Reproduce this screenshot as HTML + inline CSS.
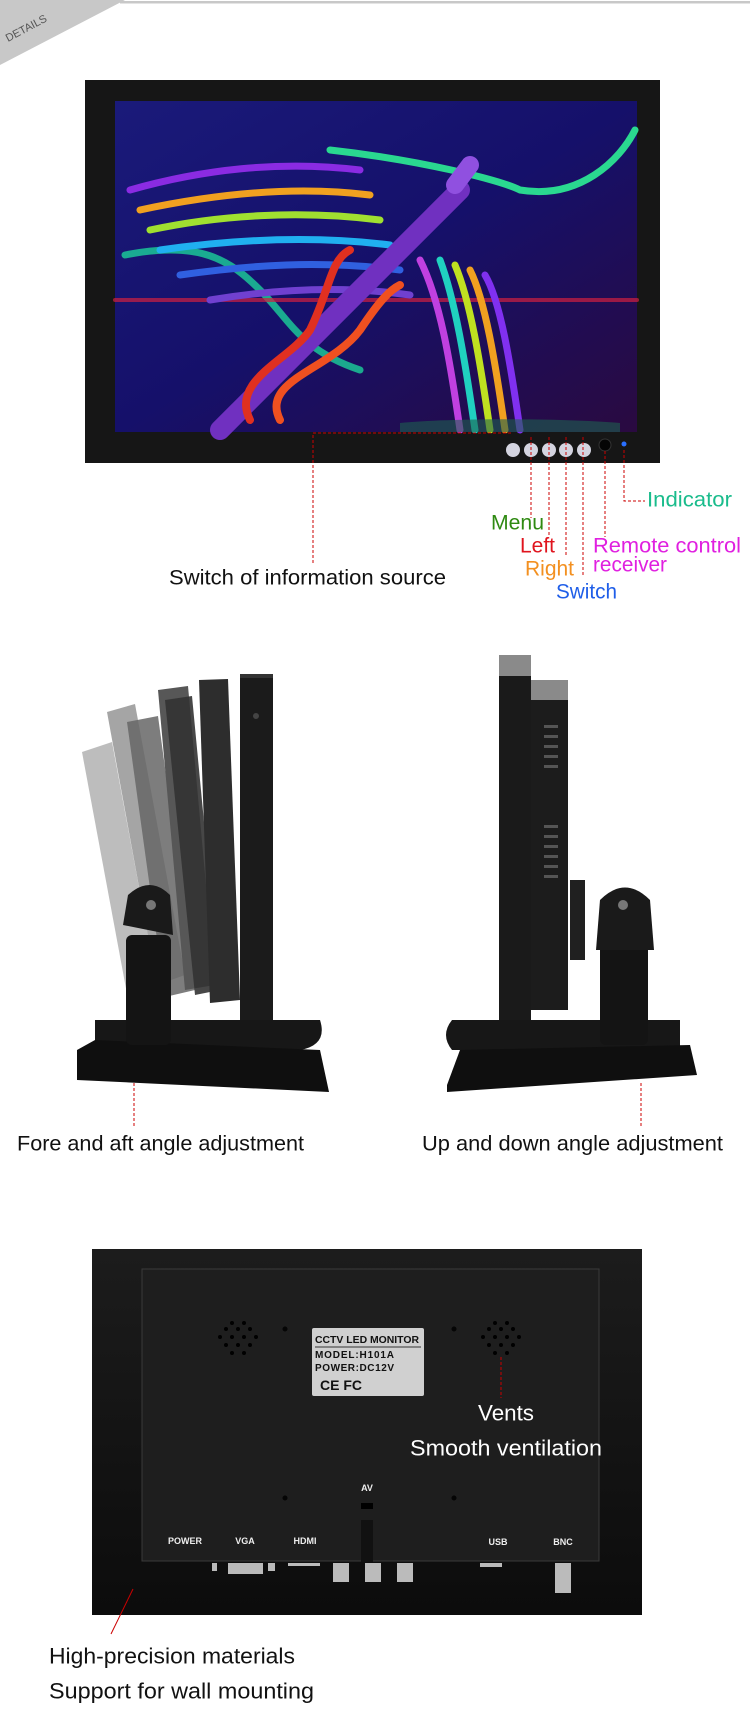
<!DOCTYPE html>
<html><head><meta charset="utf-8"><style>
html,body{margin:0;padding:0;background:#fff}
svg{display:block}
text{font-family:"Liberation Sans",sans-serif}
</style></head><body>
<svg width="750" height="1733" viewBox="0 0 750 1733" xmlns="http://www.w3.org/2000/svg">
<defs>
<linearGradient id="scr" x1="0" y1="0" x2="1" y2="1">
<stop offset="0" stop-color="#1a1a7a"/><stop offset="0.5" stop-color="#15106a"/><stop offset="1" stop-color="#2a0a40"/>
</linearGradient>
<linearGradient id="gb" x1="0" y1="0" x2="0" y2="1"><stop offset="0" stop-color="#1c1c1c"/><stop offset="1" stop-color="#0c0c0c"/></linearGradient>
<g id="v1" fill="#000">
<circle cx="-6" cy="-17" r="2"/><circle cx="6" cy="-17" r="2"/>
<circle cx="-12" cy="-11" r="2"/><circle cx="0" cy="-11" r="2"/><circle cx="12" cy="-11" r="2"/>
<circle cx="-18" cy="-3" r="2"/><circle cx="-6" cy="-3" r="2"/><circle cx="6" cy="-3" r="2"/><circle cx="18" cy="-3" r="2"/>
<circle cx="-12" cy="5" r="2"/><circle cx="0" cy="5" r="2"/><circle cx="12" cy="5" r="2"/>
<circle cx="-6" cy="13" r="2"/><circle cx="6" cy="13" r="2"/>
</g>
</defs>
<!-- header -->
<rect x="120" y="1" width="630" height="2.5" fill="#c8c8c8"/>
<polygon points="0,0 125,0 0,65" fill="#c8c8c8"/>
<text x="8" y="42" font-size="11" fill="#555" transform="rotate(-28 8 42)">DETAILS</text>

<!-- front monitor -->
<rect x="85" y="80" width="575" height="383" fill="#161616"/>
<rect x="115" y="101" width="522" height="331" fill="url(#scr)"/>
<g fill="none" stroke-width="7" stroke-linecap="round">
<path d="M125 255 C200 240 230 260 260 290 C290 320 300 350 360 370" stroke="#1bd19a" opacity=".8"/>
<path d="M115 300 L637 300" stroke="#d02040" stroke-width="4" opacity=".7"/>
<path d="M330 150 C420 160 500 180 520 190 C580 200 620 160 635 130" stroke="#2ad890"/>
<path d="M130 190 C200 170 280 160 360 170" stroke="#8a2be2"/>
<path d="M140 210 C210 195 290 185 370 195" stroke="#f0a020"/>
<path d="M150 230 C220 215 300 210 380 220" stroke="#a0e030"/>
<path d="M160 250 C230 240 310 235 390 245" stroke="#20b0f0"/>
<path d="M180 275 C250 265 320 260 400 270" stroke="#3060e0"/>
<path d="M210 300 C270 290 340 285 410 295" stroke="#7040d0"/>
<path d="M220 430 L460 190" stroke="#7030c0" stroke-width="20"/>
<path d="M455 185 L470 165" stroke="#9050e0" stroke-width="18"/>
<path d="M250 420 C230 380 290 360 310 330 C330 290 330 260 350 250" stroke="#e03020" stroke-width="8"/>
<path d="M280 420 C260 380 330 370 360 330 C380 300 390 290 400 285" stroke="#f05020" stroke-width="8"/>
<path d="M420 260 C440 300 450 360 460 430" stroke="#c040e0"/>
<path d="M440 260 C455 300 465 360 475 430" stroke="#20d0c0"/>
<path d="M455 265 C470 300 480 360 490 430" stroke="#c0e020"/>
<path d="M470 270 C485 300 495 360 505 430" stroke="#f0a020"/>
<path d="M485 275 C500 300 510 360 520 430" stroke="#8030f0"/>
</g>
<path d="M400 423 C450 418 560 418 620 423 L620 432 L400 432Z" fill="#1e6050" opacity=".6"/>
<g fill="#d4d4e0">
<circle cx="513" cy="450" r="7"/><circle cx="531" cy="450" r="7"/><circle cx="549" cy="450" r="7"/><circle cx="566" cy="450" r="7"/><circle cx="584" cy="450" r="7"/>
</g>
<circle cx="605" cy="445" r="6" fill="#050505" stroke="#333"/>
<circle cx="624" cy="444" r="2.5" fill="#2a70ff"/>
<g stroke="#c00" stroke-width="1" stroke-dasharray="3,2" fill="none">
<path d="M313 563 L313 433 L513 433"/>
<path d="M531 437 L531 518"/><path d="M549 437 L549 535"/><path d="M566 437 L566 555"/><path d="M583 437 L583 575"/>
<path d="M605 451 L605 537"/><path d="M624 450 L624 501 L645 501"/>
</g>
<g font-size="21" dominant-baseline="central" lengthAdjust="spacingAndGlyphs">
<text x="169" y="578" fill="#111" textLength="277" lengthAdjust="spacingAndGlyphs">Switch of information source</text>
<text x="647" y="500" fill="#1abc8c" textLength="85" lengthAdjust="spacingAndGlyphs">Indicator</text>
<text x="491" y="523" fill="#2f8a12" textLength="53" lengthAdjust="spacingAndGlyphs">Menu</text>
<text x="520" y="546" fill="#e0141e" textLength="35" lengthAdjust="spacingAndGlyphs">Left</text>
<text x="525" y="569" fill="#f39020" textLength="49" lengthAdjust="spacingAndGlyphs">Right</text>
<text x="556" y="592" fill="#1f5ee8" textLength="61" lengthAdjust="spacingAndGlyphs">Switch</text>
<text x="593" y="546" fill="#e020e0" textLength="148" lengthAdjust="spacingAndGlyphs">Remote control</text>
<text x="593" y="565" fill="#e020e0" textLength="74" lengthAdjust="spacingAndGlyphs">receiver</text>
</g>

<!-- left side monitor (tilting) -->
<g>
<polygon points="82,752 112,742 160,1000 130,1010" fill="#bdbdbd"/>
<polygon points="107,712 135,704 185,975 157,985" fill="#a5a5a5"/>
<polygon points="127,722 158,716 195,990 165,997" fill="#666" opacity=".85"/>
<polygon points="158,690 188,686 215,985 185,990" fill="#575757"/>
<polygon points="165,700 192,696 220,990 195,995" fill="#333" opacity=".9"/>
<polygon points="199,680 228,679 240,1000 210,1003" fill="#2d2d2d"/>
<rect x="240" y="674" width="33" height="350" fill="#1b1b1b"/>
<rect x="240" y="674" width="33" height="4" fill="#333"/>
<circle cx="256" cy="716" r="3" fill="#444"/>
</g>
<path d="M95 1020 L320 1020 Q328 1045 300 1050 L95 1050 Z" fill="#171717"/>
<path d="M77 1050 L95 1040 L320 1050 L329 1092 L77 1080 Z" fill="#0f0f0f"/>
<rect x="126" y="935" width="45" height="110" rx="6" fill="#141414"/>
<path d="M123 925 L128 895 Q150 875 170 895 L173 935 Z" fill="#1a1a1a"/>
<circle cx="151" cy="905" r="5" fill="#777"/>
<g stroke="#c00" stroke-width="1" stroke-dasharray="3,2"><path d="M134 1083 L134 1127"/><path d="M641 1083 L641 1127"/></g>
<g font-size="21" dominant-baseline="central" fill="#111">
<text x="17" y="1144" textLength="287" lengthAdjust="spacingAndGlyphs">Fore and aft angle adjustment</text>
<text x="422" y="1144" textLength="301" lengthAdjust="spacingAndGlyphs">Up and down angle adjustment</text>
</g>

<!-- right side monitor -->
<rect x="499" y="655" width="32" height="369" fill="#1a1a1a"/>
<rect x="499" y="655" width="32" height="21" fill="#8a8a8a"/>
<rect x="531" y="680" width="37" height="330" fill="#1c1c1c"/>
<rect x="531" y="680" width="37" height="20" fill="#8a8a8a"/>
<g fill="#555"><rect x="544" y="725" width="14" height="3"/><rect x="544" y="735" width="14" height="3"/><rect x="544" y="745" width="14" height="3"/><rect x="544" y="755" width="14" height="3"/><rect x="544" y="765" width="14" height="3"/><rect x="544" y="825" width="14" height="3"/><rect x="544" y="835" width="14" height="3"/><rect x="544" y="845" width="14" height="3"/><rect x="544" y="855" width="14" height="3"/><rect x="544" y="865" width="14" height="3"/><rect x="544" y="875" width="14" height="3"/></g>
<rect x="570" y="880" width="15" height="80" fill="#202020"/>
<path d="M452 1020 L680 1020 L680 1050 L452 1050 Q440 1035 452 1020Z" fill="#171717"/>
<path d="M447 1085 L460 1050 L690 1045 L697 1075 L447 1092 Z" fill="#0f0f0f"/>
<rect x="600" y="935" width="48" height="110" rx="6" fill="#141414"/>
<path d="M596 950 L600 900 Q625 875 650 900 L654 950 Z" fill="#1a1a1a"/>
<circle cx="623" cy="905" r="5" fill="#777"/>

<!-- back monitor -->
<rect x="92" y="1249" width="550" height="366" fill="url(#gb)"/>
<rect x="142" y="1269" width="457" height="292" fill="#1e1e1e" stroke="#3a3a3a" stroke-width="1"/>
<g fill="#050505">
<circle cx="285" cy="1329" r="2.5"/><circle cx="454" cy="1329" r="2.5"/><circle cx="285" cy="1498" r="2.5"/><circle cx="454" cy="1498" r="2.5"/>
</g>
<use href="#v1" x="238" y="1340"/>
<use href="#v1" x="501" y="1340"/>
<rect x="312" y="1328" width="112" height="68" rx="2" fill="#d0d0d0"/>
<g font-size="10" fill="#111" font-weight="bold">
<text x="315" y="1343" textLength="104" lengthAdjust="spacingAndGlyphs">CCTV LED MONITOR</text>
<line x1="315" y1="1347" x2="421" y2="1347" stroke="#333"/>
<text x="315" y="1358" textLength="79">MODEL:H101A</text>
<text x="315" y="1371" textLength="79">POWER:DC12V</text>
<text x="320" y="1390" font-size="14">CE FC</text>
</g>
<path d="M501 1357 L501 1398" stroke="#c00" stroke-dasharray="3,2"/>
<g fill="#fff" dominant-baseline="central" font-size="22">
<text x="478" y="1413" textLength="56" lengthAdjust="spacingAndGlyphs">Vents</text>
<text x="410" y="1448" textLength="192" lengthAdjust="spacingAndGlyphs">Smooth ventilation</text>
</g>
<g fill="#eee" font-size="9" font-weight="bold" text-anchor="middle">
<text x="185" y="1544">POWER</text><text x="245" y="1544">VGA</text><text x="305" y="1544">HDMI</text>
<text x="367" y="1491">AV</text><text x="498" y="1545">USB</text><text x="563" y="1545">BNC</text>
</g>
<rect x="361" y="1503" width="12" height="6" fill="#000"/>
<rect x="361" y="1520" width="12" height="42" fill="#111"/>
<g fill="#bbb">
<rect x="212" y="1563" width="5" height="8"/><rect x="228" y="1563" width="35" height="11"/><rect x="268" y="1563" width="7" height="8"/>
<rect x="288" y="1563" width="32" height="3"/>
<rect x="333" y="1563" width="16" height="19"/><rect x="365" y="1563" width="16" height="19"/><rect x="397" y="1563" width="16" height="19"/>
<rect x="480" y="1563" width="22" height="4"/>
<rect x="555" y="1563" width="16" height="30"/>
</g>
<path d="M133 1589 L111 1634" stroke="#c00" stroke-width="1"/>
<g font-size="22" dominant-baseline="central" fill="#111">
<text x="49" y="1656" textLength="246" lengthAdjust="spacingAndGlyphs">High-precision materials</text>
<text x="49" y="1691" textLength="265" lengthAdjust="spacingAndGlyphs">Support for wall mounting</text>
</g>
</svg>
</body></html>
